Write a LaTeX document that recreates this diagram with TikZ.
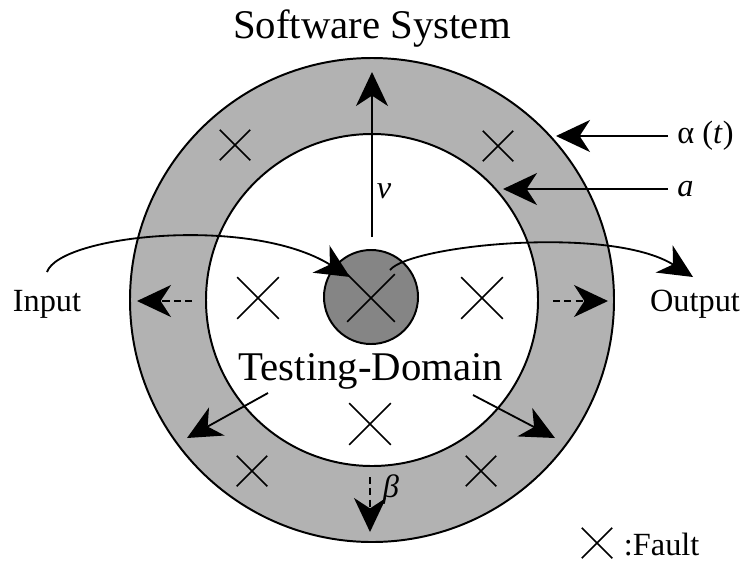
\documentclass[tikz,border=0pt]{standalone}
\usepackage{fontspec}
\setmainfont{Liberation Serif}
\usetikzlibrary{arrows.meta,shapes.misc}

\begin{document}
\begin{tikzpicture}[x=0.025cm,y=-0.025cm,
  big/.style={font=\fontsize{29}{34}\selectfont},
  lab/.style={font=\fontsize{23}{27}\selectfont},
  ital/.style={font=\fontsize{23}{27}\selectfont\itshape},
  fault/.style={draw,cross out,line width=1.2pt,inner sep=0pt,minimum size=0.72cm},
  bigfault/.style={fault,minimum size=1cm},
  arr/.style={line width=1.3pt,-{Stealth[length=0.85cm,width=0.8cm,inset=0.26cm]}},
  darr/.style={arr,dash pattern=on 5pt off 3pt}]
\useasboundingbox (0,0) rectangle (742,561);
\coordinate (c) at (372,300);
% the two rings and the core
\fill[black!30,even odd rule] (c) circle[radius=242] (c) circle[radius=166];
\draw[line width=1.4pt] (c) circle[radius=242] (c) circle[radius=166];
\node[circle,draw,line width=1.4pt,fill=black!48,minimum size=2.35cm,inner sep=0pt] (core) at (371,297) {};
% faults
\node[fault] (f1) at (235,145) {};
\node[fault] (f2) at (498,146) {};
\node[fault] (f3) at (252,471) {};
\node[fault] (f4) at (481,471) {};
\node[bigfault] (f5) at (258,298) {};
\node[bigfault] (f6) at (482,298) {};
\node[bigfault] (f7) at (370,424) {};
\node[bigfault,minimum size=1.15cm] (f8) at (371,298) {};
% texts
\node[big,anchor=base] (sys) at (372,38) {Software System};
\node[big,anchor=base] (dom) at (371,380) {Testing-Domain};
\node[lab,anchor=base] (in) at (47,311) {Input};
\node[lab,anchor=base] (out) at (695,311) {Output};
\node[ital,anchor=base] (v) at (384,198) {v};
\node[ital,anchor=base] (beta) at (391,497) {β};
\node[lab,anchor=west,inner sep=6.5pt] (alpha) at (668,136) {α (\textit{t})};
\node[ital,anchor=west,inner sep=6.5pt] (a) at (668,189) {a};
% input and output
\coordinate (inS) at (47,272);
\coordinate (inE) at (350,277);
\draw[arr] (inS) .. controls (60,235) and (250,215) .. (inE);
\coordinate (outS) at (390,270);
\coordinate (outE) at (693,277);
\draw[arr] (outS) .. controls (410,245) and (610,225) .. (outE);
% v, alpha and a
\coordinate (vS) at (372,237);
\coordinate (vE) at (372,72);
\draw[arr] (vS) -- (vE);
\coordinate (alphaE) at (556,136);
\draw[arr] (alpha.west) -- (alphaE);
\coordinate (aE) at (503,189);
\draw[arr] (a.west) -- (aE);
% dashed ones
\coordinate (lS) at (192,301);
\coordinate (lE) at (137,301);
\draw[darr] (lS) -- (lE);
\coordinate (rS) at (553,301);
\coordinate (rE) at (608,301);
\draw[darr] (rS) -- (rE);
\coordinate (bS) at (370,477);
\coordinate (bE) at (370,532);
\draw[darr] (bS) -- (bE);
% out of the testing domain
\coordinate (dlS) at (268,393);
\coordinate (dlE) at (187,438);
\draw[arr] (dlS) -- (dlE);
\coordinate (drS) at (473,395);
\coordinate (drE) at (555,438);
\draw[arr] (drS) -- (drE);
% legend
\node[fault] (lf) at (597,543) {};
\node[lab,anchor=base west] (lft) at (619,555) {:Fault};
\end{tikzpicture}
\end{document}
